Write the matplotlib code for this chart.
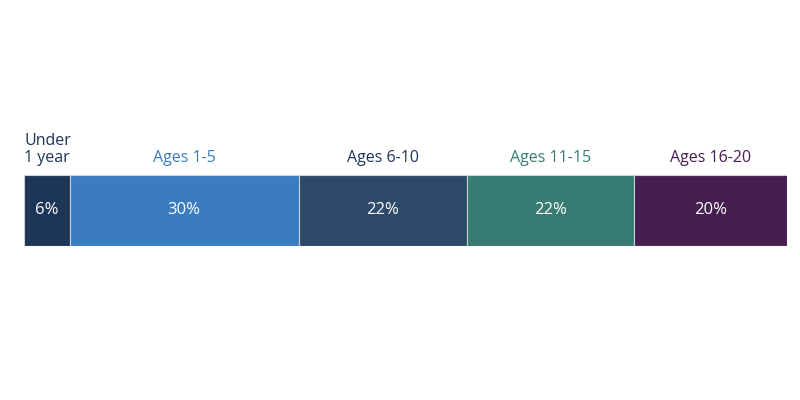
import matplotlib
matplotlib.use("Agg")
import matplotlib.pyplot as plt

categories = ["Under\n1 year", "Ages 1-5", "Ages 6-10", "Ages 11-15", "Ages 16-20"]
values = [6, 30, 22, 22, 20]
colors = ["#1d3557", "#3b7cc0", "#2d4a68", "#377b73", "#461f50"]
label_colors = ["#1d3557", "#3b7cc0", "#1d3557", "#377b73", "#461f50"]

plt.rcParams['font.family'] = ['Open Sans', 'DejaVu Sans']
fig = plt.figure(figsize=(8, 4), dpi=100)
ax = fig.add_axes([24/800, 1-246/400, 763/800, 71/400])
left = 0
for cat, v, c, lc in zip(categories, values, colors, label_colors):
    ax.barh(0, v, left=left, color=c, height=1, edgecolor="#c8d0da", linewidth=0.8)
    ax.text(left + v/2, 0, f"{v}%", color="white", ha="center", va="center", fontsize=12)
    if v < 10:
        ax.text(left, 0.62, cat, color=lc, ha="left", va="bottom", fontsize=11.5, linespacing=1.1)
    else:
        ax.text(left + v/2, 0.62, cat, color=lc, ha="center", va="bottom", fontsize=11.5)
    left += v
ax.set_xlim(0, 100)
ax.set_ylim(-0.5, 0.5)
ax.axis("off")
fig.savefig("out.png", dpi=100)
